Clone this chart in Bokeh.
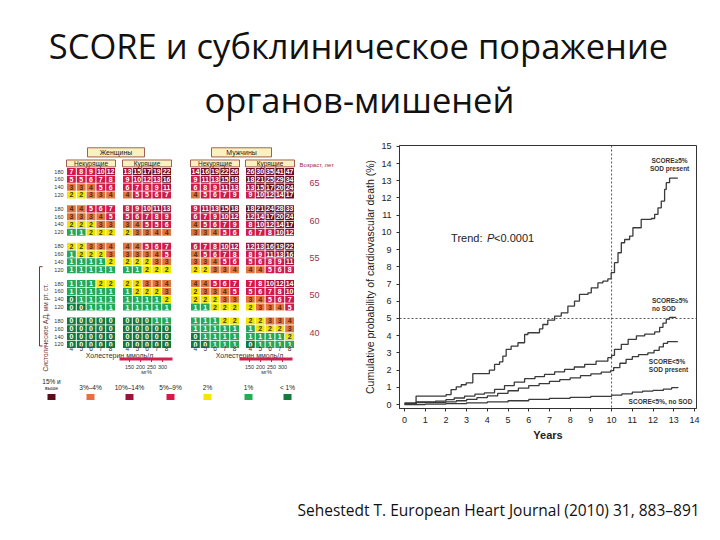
from math import pi
from bokeh.plotting import figure
from bokeh.layouts import column, row
from bokeh.models import ColumnDataSource, Range1d, FixedTicker, Span
from bokeh.embed import file_html
from bokeh.resources import INLINE
from bokeh.core.properties import value

# ---------------- data ----------------
title_lines = ["SCORE и субклиническое поражение", "органов-мишеней"]
citation = "Sehestedt T. European Heart Journal (2010) 31, 883–891"

sex_labels = ["Женщины", "Мужчины"]
smoke_labels = ["Некурящие", "Курящие", "Некурящие", "Курящие"]
chol = [4, 5, 6, 7, 8]
sbp = [180, 160, 140, 120]
ages = [65, 60, 55, 50, 40]
mg_ticks = ["150", "200", "250", "300"]
legend_labels = ["15% и\nвыше", "3%–4%", "10%–14%", "5%–9%", "2%", "1%", "< 1%"]
legend_colors = ["#5e0b17", "#e8703a", "#a0103a", "#d9184a", "#f4e600", "#22ad55", "#117a3c"]

women_nonsmoker = [
    [[7, 8, 9, 10, 12], [5, 5, 6, 7, 8], [3, 3, 4, 5, 6], [2, 2, 3, 3, 4]],
    [[4, 4, 5, 6, 7], [3, 3, 3, 4, 5], [2, 2, 2, 3, 3], [1, 1, 2, 2, 2]],
    [[2, 2, 3, 3, 4], [1, 2, 2, 2, 3], [1, 1, 1, 1, 2], [1, 1, 1, 1, 1]],
    [[1, 1, 1, 2, 2], [1, 1, 1, 1, 1], [0, 1, 1, 1, 1], [0, 0, 1, 1, 1]],
    [[0, 0, 0, 0, 0], [0, 0, 0, 0, 0], [0, 0, 0, 0, 0], [0, 0, 0, 0, 0]],
]
women_smoker = [
    [[13, 15, 17, 19, 22], [9, 10, 12, 13, 16], [6, 7, 8, 9, 11], [4, 5, 5, 6, 7]],
    [[8, 9, 10, 11, 13], [5, 6, 7, 8, 9], [3, 4, 5, 5, 6], [2, 3, 3, 4, 4]],
    [[4, 4, 5, 6, 7], [3, 3, 3, 4, 5], [2, 2, 2, 3, 3], [1, 1, 2, 2, 2]],
    [[2, 2, 3, 3, 4], [1, 2, 2, 2, 3], [1, 1, 1, 1, 2], [1, 1, 1, 1, 1]],
    [[0, 0, 0, 1, 1], [0, 0, 0, 0, 0], [0, 0, 0, 0, 0], [0, 0, 0, 0, 0]],
]
men_nonsmoker = [
    [[14, 16, 19, 22, 26], [9, 11, 13, 15, 18], [6, 8, 9, 11, 13], [4, 5, 6, 7, 9]],
    [[9, 11, 13, 15, 18], [6, 7, 9, 10, 12], [4, 5, 6, 7, 9], [3, 3, 4, 5, 6]],
    [[6, 7, 8, 10, 12], [4, 5, 6, 7, 8], [3, 3, 4, 5, 6], [2, 2, 3, 3, 4]],
    [[4, 4, 5, 6, 7], [2, 3, 3, 4, 5], [2, 2, 2, 3, 3], [1, 1, 2, 2, 2]],
    [[1, 1, 1, 2, 2], [1, 1, 1, 1, 1], [0, 1, 1, 1, 1], [0, 0, 1, 1, 1]],
]
men_smoker = [
    [[26, 30, 35, 41, 47], [18, 21, 25, 29, 34], [13, 15, 17, 20, 24], [9, 10, 12, 14, 17]],
    [[18, 21, 24, 28, 33], [12, 14, 17, 20, 24], [8, 10, 12, 14, 17], [6, 7, 8, 10, 12]],
    [[12, 13, 16, 19, 22], [8, 9, 11, 13, 16], [5, 6, 8, 9, 11], [4, 4, 5, 6, 8]],
    [[7, 8, 10, 12, 14], [5, 6, 7, 8, 10], [3, 4, 5, 6, 7], [2, 3, 3, 4, 5]],
    [[2, 2, 3, 3, 4], [1, 2, 2, 2, 3], [1, 1, 1, 1, 2], [0, 1, 1, 1, 1]],
]

# Kaplan-Meier style curves (years, cumulative %)
high_sod_x = [0, 0.56, 2.01, 2.25, 2.5, 2.74, 2.98, 3.3, 4.1, 4.35, 4.59, 4.75, 4.91, 5.15, 5.48,
              5.8, 5.96, 6.52, 6.68, 6.92, 7.25, 7.57, 7.89, 8.21, 8.45, 8.86, 9.02, 9.34, 9.58,
              9.82, 9.98, 10.14, 10.31, 10.47, 10.63, 10.87, 11.03, 11.43, 11.92, 12.08, 12.24,
              12.4, 12.56, 12.64, 12.8, 13.2]
high_sod_y = [0.1, 0.49, 0.58, 0.87, 1.03, 1.15, 1.26, 1.8, 2.0, 2.33, 2.48, 2.81, 3.2, 3.39, 3.59,
              4.07, 4.17, 4.4, 4.65, 4.9, 5.14, 5.33, 5.72, 6.01, 6.4, 6.49, 6.78, 7.07, 7.17,
              7.3, 7.66, 8.24, 8.82, 9.4, 9.59, 9.79, 10.27, 10.76, 10.81, 11.05, 11.43,
              11.82, 12.5, 12.89, 13.15, 13.15]
high_nosod_x = [0, 0.56, 1.5, 2.0, 2.4, 2.9, 3.4, 3.86, 4.35, 4.83, 5.3, 5.8, 6.3, 6.76, 7.25, 7.73,
                8.2, 8.7, 9.25, 9.82, 10.0, 10.14, 10.47, 10.8, 11.2, 11.6, 12.08, 12.32, 12.48,
                12.64, 12.8, 13.12]
high_nosod_y = [0.05, 0.15, 0.2, 0.28, 0.38, 0.49, 0.6, 0.68, 0.88, 1.1, 1.3, 1.5, 1.62, 1.75, 1.9,
                2.04, 2.18, 2.33, 2.52, 2.72, 2.86, 3.21, 3.5, 3.79, 3.99, 4.09, 4.22, 4.48, 4.73,
                4.96, 5.06, 5.06]
low_sod_x = [0, 0.56, 2.0, 2.5, 3.0, 3.5, 4.0, 4.5, 5.0, 5.5, 6.0, 6.5, 7.0, 7.5, 8.0, 8.5, 9.0,
             9.5, 9.95, 10.1, 10.4, 10.7, 11.0, 11.3, 11.75, 12.05, 12.3, 12.5, 12.7, 13.2]
low_sod_y = [0.03, 0.12, 0.15, 0.22, 0.3, 0.4, 0.5, 0.65, 0.8, 0.95, 1.1, 1.22, 1.35, 1.45, 1.55,
             1.68, 1.78, 1.88, 1.97, 2.15, 2.4, 2.62, 2.78, 2.9, 3.0, 3.15, 3.35, 3.55, 3.65, 3.65]
low_nosod_x = [0, 1.0, 2.0, 3.0, 4.0, 5.0, 6.0, 7.0, 8.0, 9.0, 10.0, 10.5, 11.0, 11.5, 12.0, 12.5,
               12.9, 13.2]
low_nosod_y = [0.0, 0.02, 0.05, 0.1, 0.15, 0.22, 0.3, 0.36, 0.42, 0.48, 0.55, 0.62, 0.72, 0.78,
               0.82, 0.9, 0.98, 1.02]
x_ticks = list(range(0, 15))
y_ticks = list(range(0, 16))
curve_labels = [("SCORE≥5%", "SOD present"), ("SCORE≥5%", "no SOD"),
                ("SCORE<5%", "SOD present"), ("SCORE<5%, no SOD", "")]

# ---------------- helpers ----------------
def risk_color(v):
    if v >= 15:
        return "#6a0b1e"
    if v >= 10:
        return "#a3103b"
    if v >= 5:
        return "#d3184a"
    if v >= 3:
        return "#e4743c"
    if v == 2:
        return "#f2e400"
    if v == 1:
        return "#24a957"
    return "#0f7a3f"


def text_color(v):
    if v == 2:
        return "#3a3a1a"
    if 3 <= v <= 4:
        return "#5a2c10"
    return "#ffffff"


SANS = value("Liberation Sans")

# page layout (pixels): title 0..127, charts 127..472, footer 472..531
X0, Y0 = 1, 1
W = 711
TH, RH, FH = 126, 345, 59
LW, RW = 354, 357


def blank(w, h, x0, y0):
    f = figure(width=w, height=h, x_range=Range1d(x0, x0 + w), y_range=Range1d(y0 + h, y0),
               x_axis_location=None, y_axis_location=None, toolbar_location=None,
               output_backend="svg", min_border=0)
    f.outline_line_color = None
    f.grid.visible = False
    return f


# ---------------- title ----------------
pt = blank(W, TH, X0, Y0)
pt.text(x=[359, 360], y=[46, 100], text=title_lines, text_font=value("Open Sans"),
        text_font_size="34.5px", text_align="center", text_baseline="alphabetic", text_color="#111111")

# ---------------- SCORE chart ----------------
pl = blank(LW, RH, X0, Y0 + TH)

block_left = [67, 123, 191, 246]
cell_w = 9.8
row_h = 10.25
age_top = [156, 205, 254, 303, 352]
tables = [women_nonsmoker, women_smoker, men_nonsmoker, men_smoker]

cx, cy, cc, ct, ctc = [], [], [], [], []
for g, tab in enumerate(tables):
    for k, age_block in enumerate(tab):
        for r, row_vals in enumerate(age_block):
            for c, v in enumerate(row_vals):
                cx.append(block_left[g] + (c + 0.5) * cell_w)
                cy.append(age_top[k] + (r + 0.5) * row_h)
                cc.append(risk_color(v))
                ct.append(str(v))
                ctc.append(text_color(v))
cells = ColumnDataSource(dict(x=cx, y=cy, color=cc, text=ct, tcolor=ctc))
pl.rect(x="x", y="y", width=cell_w - 1, height=row_h - 1, fill_color="color", line_color=None,
        source=cells)
pl.text(x="x", y="y", text="text", text_color="tcolor", text_font=SANS, text_font_size="7px",
        text_font_style="bold", text_align="center", text_baseline="middle", source=cells)

# header boxes
blk_w = 5 * cell_w
pl.rect(x=[116.5, 242], y=[136, 136], width=[57, 60], height=12, fill_color="#fbf1c0",
        line_color="#8a3a30", line_width=0.8)
pl.text(x=[116.5, 242], y=[136.5, 136.5], text=sex_labels, text_font=SANS, text_font_size="7px",
        text_align="center", text_baseline="middle", text_color="#222222")
pl.rect(x=[b + blk_w / 2 for b in block_left], y=[150.5] * 4, width=blk_w, height=9,
        fill_color="#fbf1c0", line_color="#8a3a30", line_width=0.8)
pl.text(x=[b + blk_w / 2 for b in block_left], y=[151] * 4, text=smoke_labels, text_font=SANS,
        text_font_size="6.5px", text_align="center", text_baseline="middle", text_color="#222222")

# age labels
pl.text(x=[300], y=[153], text=["Возраст, лет"], text_font=SANS, text_font_size="6px",
        text_align="left", text_baseline="middle", text_color="#a02a4a")
pl.text(x=[310] * 5, y=[t + 2 * row_h for t in age_top], text=[str(a) for a in ages], text_font=SANS,
        text_font_size="9px", text_align="left", text_baseline="middle", text_color="#a03050")

# SBP labels
sx, sy, st = [], [], []
for k in range(len(ages)):
    for r, s in enumerate(sbp):
        sx.append(64)
        sy.append(age_top[k] + (r + 0.5) * row_h)
        st.append(str(s))
pl.text(x=sx, y=sy, text=st, text_font=SANS, text_font_size="5.5px", text_align="right",
        text_baseline="middle", text_color="#333333")
pl.text(x=[46], y=[366], text=["Систолическое АД, мм рт. ст."], angle=pi / 2, text_font=SANS,
        text_font_size="6.5px", text_align="center", text_baseline="middle", text_color="#6a2a2a")
pl.line(x=[43, 40, 40, 43], y=[286, 286, 390, 390], line_color="#8a2a2a", line_width=1)

# cholesterol labels
chx, chy, cht = [], [], []
for b in block_left:
    for c, v in enumerate(chol):
        chx.append(b + (c + 0.5) * cell_w)
        chy.append(393)
        cht.append(str(v))
pl.text(x=chx, y=chy, text=cht, text_font=SANS, text_font_size="6.5px", text_align="center",
        text_baseline="middle", text_color="#333333")
pl.text(x=[120, 250], y=[402, 402], text=["Холестерин ммоль/л", "Холестерин ммоль/л"],
        text_font=SANS, text_font_size="7px", text_align="center", text_baseline="middle",
        text_color="#333333")

# mg% scales
for x0 in [120, 240]:
    pl.line(x=[x0, x0 + 53], y=[407, 407], line_color="#d0204c", line_width=3)
    tx = [x0 + 10 + 11 * i for i in range(len(mg_ticks))]
    pl.segment(x0=tx, y0=[408] * 4, x1=tx, y1=[411] * 4, line_color="#d0204c", line_width=1)
    pl.text(x=tx, y=[417] * 4, text=mg_ticks, text_font=SANS, text_font_size="5.5px",
            text_align="center", text_baseline="middle", text_color="#333333")
    pl.text(x=[x0 + 27], y=[424], text=["мг%"], text_font=SANS, text_font_size="5.5px",
            text_align="center", text_baseline="middle", text_color="#333333")

# legend
leg_x = [52, 91, 130, 171, 208, 249, 288]
pl.rect(x=leg_x, y=[457] * 7, width=8, height=8, fill_color=legend_colors, line_color=None)
pl.text(x=[leg_x[0]], y=[437], text=["15% и"], text_font=SANS, text_font_size="6.5px",
        text_align="center", text_baseline="middle", text_color="#222222")
pl.text(x=[leg_x[0]], y=[445], text=["выше"], text_font=SANS, text_font_size="5px",
        text_align="center", text_baseline="middle", text_color="#222222")
pl.text(x=leg_x[1:], y=[444] * 6, text=legend_labels[1:], text_font=SANS, text_font_size="6.5px",
        text_align="center", text_baseline="middle", text_color="#222222")

# ---------------- Kaplan-Meier chart ----------------
pr = figure(width=RW, height=RH, x_range=Range1d(-0.24, 14.1), y_range=Range1d(-0.23, 15.05),
            toolbar_location=None, output_backend="svg",
            min_border_left=45, min_border_right=15, min_border_top=19, min_border_bottom=63)
pr.grid.visible = False
pr.outline_line_color = "#333333"
pr.xaxis.ticker = FixedTicker(ticks=x_ticks)
pr.yaxis.ticker = FixedTicker(ticks=y_ticks)
for ax in [pr.xaxis, pr.yaxis]:
    ax.major_label_text_font = "Liberation Sans"
    ax.major_label_text_font_size = "9px"
    ax.major_label_text_color = "#222222"
    ax.axis_line_color = "#333333"
    ax.major_tick_line_color = "#333333"
    ax.major_tick_out = 3
    ax.major_tick_in = 0
    ax.minor_tick_line_color = None
    ax.axis_label_text_font = "Liberation Sans"
    ax.axis_label_text_color = "#222222"
pr.xaxis.axis_label = "Years"
pr.xaxis.axis_label_text_font_style = "bold"
pr.xaxis.axis_label_text_font_size = "11px"
pr.xaxis.axis_label_standoff = 3
pr.yaxis.axis_label = "Cumulative probability of cardiovascular death (%)"
pr.yaxis.axis_label_text_font_style = "normal"
pr.yaxis.axis_label_text_font_size = "10.5px"
pr.yaxis.axis_label_standoff = 2

pr.add_layout(Span(location=10, dimension="height", line_color="#555555", line_dash="2 2",
                   line_width=1))
pr.add_layout(Span(location=5, dimension="width", line_color="#555555", line_dash="2 2",
                   line_width=1))

for xs, ys in [(high_sod_x, high_sod_y), (high_nosod_x, high_nosod_y),
               (low_sod_x, low_sod_y), (low_nosod_x, low_nosod_y)]:
    pr.step(x=xs, y=ys, mode="after", line_color="#3a3a3a", line_width=1.3)

lab_font = "6.5px"
pr.text(x=[12.8, 12.8], y=[14.2, 13.7], text=list(curve_labels[0]), text_font=SANS,
        text_font_size=lab_font, text_font_style="bold", text_align="center", text_baseline="middle",
        text_color="#333333")
pr.text(x=[11.95, 11.95], y=[6.05, 5.6], text=list(curve_labels[1]), text_font=SANS,
        text_font_size=lab_font, text_font_style="bold", text_align="left", text_baseline="middle",
        text_color="#333333")
pr.text(x=[11.8, 11.8], y=[2.5, 2.03], text=list(curve_labels[2]), text_font=SANS,
        text_font_size=lab_font, text_font_style="bold", text_align="left", text_baseline="middle",
        text_color="#333333")
pr.text(x=[13.9], y=[0.15], text=[curve_labels[3][0]], text_font=SANS,
        text_font_size=lab_font, text_font_style="bold", text_align="right", text_baseline="middle",
        text_color="#333333")
pr.text(x=[2.25], y=[9.65], text=["Trend: "], text_font=SANS, text_font_size="11px",
        text_align="left", text_baseline="middle", text_color="#222222")
pr.text(x=[2.25], y=[9.65], text=["P"], x_offset=36, text_font=SANS, text_font_size="11px",
        text_font_style="italic", text_align="left", text_baseline="middle", text_color="#222222")
pr.text(x=[2.25], y=[9.65], text=["<0.0001"], x_offset=43, text_font=SANS, text_font_size="11px",
        text_align="left", text_baseline="middle", text_color="#222222")

# ---------------- footer ----------------
pf = blank(W, FH, X0, Y0 + TH + RH)
pf.text(x=[298], y=[510], text=[citation], text_font=value("Open Sans"), text_font_size="15.5px",
        text_align="left", text_baseline="middle", text_color="#111111")

layout = column(pt, row(pl, pr), pf)
open("out.html", "w").write(file_html(layout, INLINE))
